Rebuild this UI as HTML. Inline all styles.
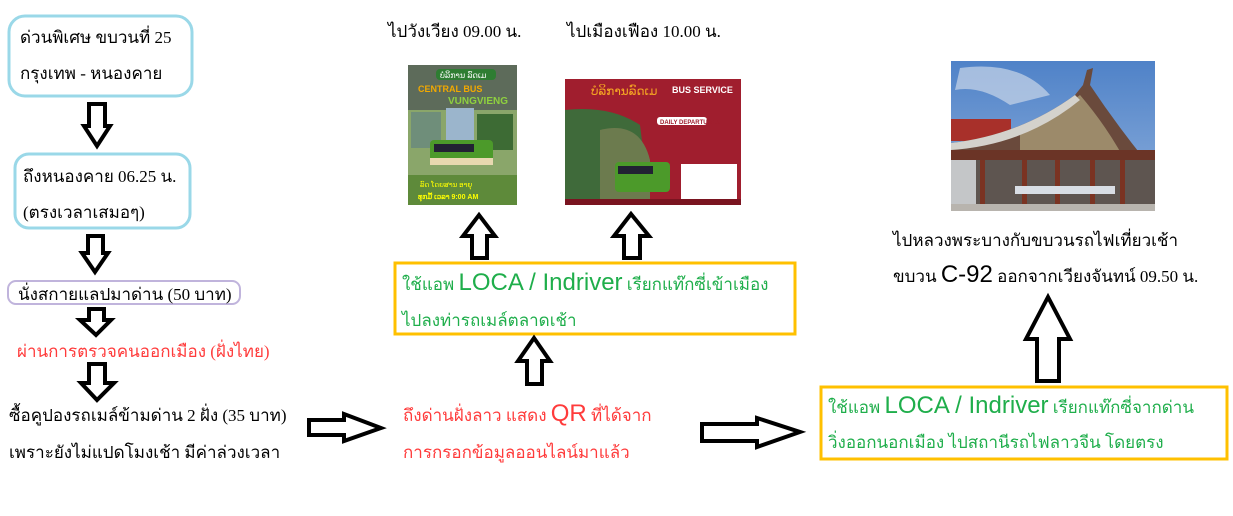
<!DOCTYPE html>
<html><head><meta charset="utf-8"><style>
html,body{margin:0;padding:0;background:#fff;}
svg{display:block}
text{font-family:"Liberation Serif",serif;font-size:17px;}
.s{font-family:"Liberation Sans",sans-serif;}
</style></head><body>
<svg width="1233" height="516" viewBox="0 0 1233 516" xmlns="http://www.w3.org/2000/svg">
<defs>
<linearGradient id="sky" x1="0" y1="0" x2="0" y2="1"><stop offset="0" stop-color="#4f82c8"/><stop offset="1" stop-color="#8fb0dc"/></linearGradient>
</defs>
<!-- left column -->
<rect x="9" y="16" width="183" height="80" rx="16" fill="#fff" stroke="#9ad8e8" stroke-width="3"/>
<text x="20" y="43">ด่วนพิเศษ ขบวนที่ 25</text>
<text x="20" y="79">กรุงเทพ - หนองคาย</text>
<polygon points="89,104 105,104 105,126 110,126 97,146 84,126 89,126" fill="#fff" stroke="#000" stroke-width="4"/>
<rect x="15" y="154" width="175" height="74" rx="14" fill="#fff" stroke="#9ad8e8" stroke-width="3"/>
<text x="23" y="182">ถึงหนองคาย  06.25 น.</text>
<text x="23" y="218">(ตรงเวลาเสมอๆ)</text>
<polygon points="88,236 103,236 103,253 108,253 95,272 82,253 88,253" fill="#fff" stroke="#000" stroke-width="4"/>
<rect x="8" y="281" width="232" height="23" rx="8" fill="#fff" stroke="#c0b4dc" stroke-width="2"/>
<text x="18" y="300">นั่งสกายแลปมาด่าน (50 บาท)</text>
<polygon points="89,309 104,309 104,320 111,320 96,335 80,320 89,320" fill="#fff" stroke="#000" stroke-width="4"/>
<text x="17" y="357" fill="#ff3b3b">ผ่านการตรวจคนออกเมือง (ฝั่งไทย)</text>
<polygon points="89,364 105,364 105,383 114,383 97,400 81,383 89,383" fill="#fff" stroke="#000" stroke-width="4"/>
<text x="9" y="421">ซื้อคูปองรถเมล์ข้ามด่าน 2 ฝั่ง (35 บาท)</text>
<text x="9" y="458">เพราะยังไม่แปดโมงเช้า มีค่าล่วงเวลา</text>
<!-- right arrows -->
<polygon points="309,420 344,420 344,414 381,428 344,441 344,435 309,435" fill="#fff" stroke="#000" stroke-width="4"/>
<polygon points="702,424 757,424 757,418 800,432 757,447 757,441 702,441" fill="#fff" stroke="#000" stroke-width="4"/>
<!-- middle -->
<text x="388" y="37">ไปวังเวียง 09.00 น.</text>
<text x="567" y="37">ไปเมืองเฟือง 10.00 น.</text>
<!-- left poster -->
<rect x="408" y="65" width="109" height="140" fill="#8aa66a"/>
<rect x="408" y="65" width="109" height="45" fill="#5d6b5a"/>
<rect x="436" y="69" width="60" height="11" rx="4" fill="#2e7d32"/>
<text x="440" y="78" class="s" style="font-size:8px" fill="#fff">ບໍລິການ ລົດເມ</text>
<text x="418" y="92" class="s" style="font-size:9px;font-weight:bold" fill="#f2a900">CENTRAL BUS</text>
<text x="448" y="104" class="s" style="font-size:10px;font-weight:bold" fill="#8fd13f">VUNGVIENG</text>
<rect x="411" y="112" width="30" height="36" fill="#6f8e7a"/>
<rect x="446" y="108" width="28" height="40" fill="#9bb5cc"/>
<rect x="477" y="114" width="36" height="36" fill="#3d6b34"/>
<rect x="430" y="140" width="63" height="25" rx="4" fill="#4c9a2a"/>
<rect x="434" y="144" width="40" height="8" fill="#223"/>
<rect x="430" y="158" width="63" height="7" fill="#e8d8b0"/>
<rect x="408" y="175" width="109" height="30" fill="#5e8a3a"/>
<text x="420" y="187" class="s" style="font-size:7px" fill="#ff0">ລົດ ໂດຍສານ ອາຍຸ</text>
<text x="418" y="199" class="s" style="font-size:7px;font-weight:bold" fill="#ff0">ທຸກມື້ ເວລາ 9:00 AM</text>
<!-- right poster -->
<rect x="565" y="79" width="176" height="126" fill="#a01e2e"/>
<path d="M565,110 Q610,105 640,125 L650,205 L565,205 Z" fill="#3f6a3a"/>
<path d="M600,130 Q640,120 650,160 L650,205 L600,205Z" fill="#6c7b4e"/>
<text x="591" y="95" class="s" style="font-size:12px" fill="#f5a623">ບໍລິການລົດເມ</text>
<text x="672" y="93" class="s" style="font-size:9px;font-weight:bold" fill="#fff">BUS SERVICE</text>
<rect x="657" y="117" width="50" height="8" rx="3" fill="#fff"/>
<text x="660" y="124" class="s" style="font-size:6px;font-weight:bold" fill="#a01e2e">DAILY DEPARTURES</text>
<rect x="681" y="164" width="56" height="38" fill="#fff"/>
<rect x="615" y="162" width="55" height="30" rx="4" fill="#4c9a2a"/>
<rect x="618" y="166" width="35" height="8" fill="#223"/>
<rect x="565" y="199" width="176" height="6" fill="#7a1420"/>
<!-- up arrows to images -->
<polygon points="472,258 487,258 487,236 495,236 479,215 463,236 472,236" fill="#fff" stroke="#000" stroke-width="4"/>
<polygon points="624,258 640,258 640,236 649,236 631,214 614,236 624,236" fill="#fff" stroke="#000" stroke-width="4"/>
<rect x="395" y="263" width="400" height="71" fill="#fff" stroke="#ffc000" stroke-width="3"/>
<text x="402" y="290" fill="#1fae4b">ใช้แอพ <tspan class="s" style="font-size:24px">LOCA / Indriver</tspan> เรียกแท๊กซี่เข้าเมือง</text>
<text x="402" y="326" fill="#1fae4b">ไปลงท่ารถเมล์ตลาดเช้า</text>
<polygon points="527,384 542,384 542,361 550,361 534,338 518,361 527,361" fill="#fff" stroke="#000" stroke-width="4"/>
<text x="403" y="421" fill="#ff3b3b">ถึงด่านฝั่งลาว แสดง <tspan class="s" style="font-size:24px">QR</tspan> ที่ได้จาก</text>
<text x="403" y="458" fill="#ff3b3b">การกรอกข้อมูลออนไลน์มาแล้ว</text>
<!-- right photo -->
<rect x="951" y="61" width="204" height="150" fill="url(#sky)"/>
<path d="M960,68 Q1020,60 1050,95 L1010,105 Q980,85 955,90Z" fill="#c9d6e8" opacity="0.7"/>
<rect x="951" y="119" width="60" height="22" fill="#a8302a"/>
<path d="M1110,155 L1130,152 L1155,160 L1155,175 L1120,172Z" fill="#b0382e"/>
<path d="M951,143 Q1020,135 1075,95 L1083,85 L1087,70 L1093,68 L1090,85 Q1120,130 1155,172 L1155,211 L951,211Z" fill="#6a4a3c"/>
<path d="M1020,135 Q1060,110 1080,95 Q1110,130 1130,170 L1020,170Z" fill="#9c8a6a"/>
<path d="M951,143 Q1020,135 1075,95 L1080,100 Q1025,145 951,150Z" fill="#d4d2cc"/>
<rect x="951" y="150" width="204" height="10" fill="#6b3426"/>
<rect x="951" y="160" width="204" height="44" fill="#5e5550"/>
<rect x="951" y="160" width="25" height="51" fill="#c4c6c8"/>
<rect x="980" y="160" width="5" height="45" fill="#7a3322"/>
<rect x="1022" y="160" width="5" height="45" fill="#7a3322"/>
<rect x="1055" y="160" width="5" height="45" fill="#7a3322"/>
<rect x="1090" y="160" width="5" height="45" fill="#7a3322"/>
<rect x="1120" y="160" width="5" height="45" fill="#7a3322"/>
<rect x="1015" y="186" width="100" height="8" fill="#d8dde4"/>
<rect x="951" y="204" width="204" height="7" fill="#b8b4ae"/>
<text x="893" y="246">ไปหลวงพระบางกับขบวนรถไฟเที่ยวเช้า</text>
<text x="893" y="282">ขบวน <tspan class="s" style="font-size:24px">C-92</tspan>  ออกจากเวียงจันทน์ 09.50 น.</text>
<polygon points="1037,381 1059,381 1059,339 1070,339 1048,297 1026,339 1037,339" fill="#fff" stroke="#000" stroke-width="4"/>
<rect x="821" y="387" width="406" height="72" fill="#fff" stroke="#ffc000" stroke-width="3"/>
<text x="828" y="413" fill="#1fae4b">ใช้แอพ <tspan class="s" style="font-size:24px">LOCA / Indriver</tspan> เรียกแท๊กซี่จากด่าน</text>
<text x="828" y="448" fill="#1fae4b">วิ่งออกนอกเมือง ไปสถานีรถไฟลาวจีน โดยตรง</text>
</svg>
</body></html>
